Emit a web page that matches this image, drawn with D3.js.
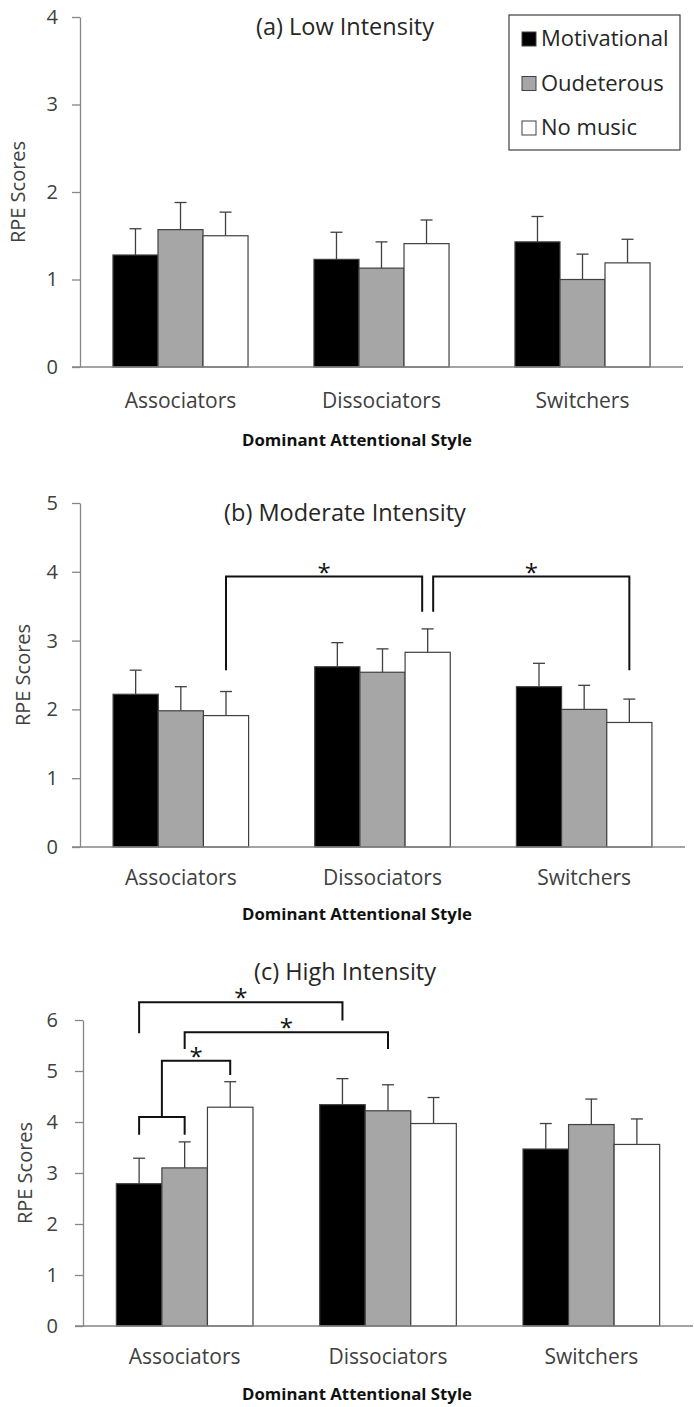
<!DOCTYPE html>
<html>
<head>
<meta charset="utf-8">
<script src="https://cdn.jsdelivr.net/npm/d3@7"></script>
<style>
  html, body { margin: 0; padding: 0; background: #fff; }
  svg { display: block; font-family: "Open Sans", Lato, sans-serif; }
</style>
</head>
<body>
<svg id="chart" width="694" height="1407"></svg>
<script>
// Categories and series
const styles = ["Associators", "Dissociators", "Switchers"];
const conditions = ["Motivational", "Oudeterous", "No music"];
const conditionFill = ["#000000", "#a6a6a6", "#ffffff"];

// Panel (a) Low intensity: means and standard errors per condition
const lowMotivational = [1.28, 1.23, 1.43];
const lowOudeterous   = [1.57, 1.13, 1.00];
const lowNoMusic      = [1.50, 1.41, 1.19];
const lowMotivationalErr = [0.30, 0.31, 0.29];
const lowOudeterousErr   = [0.31, 0.30, 0.29];
const lowNoMusicErr      = [0.27, 0.27, 0.27];
const lowTicks = [0, 1, 2, 3, 4];

// Panel (b) Moderate intensity
const modMotivational = [2.22, 2.62, 2.33];
const modOudeterous   = [1.98, 2.54, 2.00];
const modNoMusic      = [1.91, 2.83, 1.81];
const modMotivationalErr = [0.35, 0.35, 0.34];
const modOudeterousErr   = [0.35, 0.34, 0.35];
const modNoMusicErr      = [0.35, 0.34, 0.34];
const modTicks = [0, 1, 2, 3, 4, 5];

// Panel (c) High intensity
const highMotivational = [2.79, 4.34, 3.47];
const highOudeterous   = [3.10, 4.22, 3.95];
const highNoMusic      = [4.29, 3.97, 3.56];
const highMotivationalErr = [0.50, 0.51, 0.50];
const highOudeterousErr   = [0.51, 0.51, 0.50];
const highNoMusicErr      = [0.50, 0.51, 0.50];
const highTicks = [0, 1, 2, 3, 4, 5, 6];

// Significance brackets: each end is a (style, condition list) with the
// height (in RPE units) where its leg stops; `top` is the bracket height.
const modBrackets = [
  { from: ["Associators", ["No music"]], fromY: 2.57,
    to: ["Dissociators", ["No music"]], toY: 3.42, top: 3.93, star: true, toSide: -1 },
  { from: ["Dissociators", ["No music"]], fromY: 3.42,
    to: ["Switchers", ["No music"]], toY: 2.57, top: 3.93, star: true, fromSide: 1 }
];
const highBrackets = [
  { from: ["Associators", ["Motivational"]], fromY: 3.75,
    to: ["Associators", ["Oudeterous"]], toY: 3.75, top: 4.10, star: false },
  { from: ["Associators", ["Motivational", "Oudeterous"]], fromY: 4.10,
    to: ["Associators", ["No music"]], toY: 4.92, top: 5.20, star: true },
  { from: ["Associators", ["Oudeterous"]], fromY: 5.43,
    to: ["Dissociators", ["Oudeterous"]], toY: 5.43, top: 5.76, star: true },
  { from: ["Associators", ["Motivational"]], fromY: 5.74,
    to: ["Dissociators", ["Motivational"]], toY: 5.99, top: 6.35, star: true }
];

const panels = [
  { title: "(a) Low Intensity", ticks: lowTicks,
    values: [lowMotivational, lowOudeterous, lowNoMusic],
    errors: [lowMotivationalErr, lowOudeterousErr, lowNoMusicErr],
    brackets: [], legend: true,
    box: { left: 80, right: 683, top: 17, bottom: 367 },
    titleY: 35, catY: 408, axisTitleY: 446, yLabelX: 25 },
  { title: "(b) Moderate Intensity", ticks: modTicks,
    values: [modMotivational, modOudeterous, modNoMusic],
    errors: [modMotivationalErr, modOudeterousErr, modNoMusicErr],
    brackets: modBrackets, legend: false,
    box: { left: 80, right: 685, top: 503, bottom: 847 },
    titleY: 521, catY: 885, axisTitleY: 920, yLabelX: 30 },
  { title: "(c) High Intensity", ticks: highTicks,
    values: [highMotivational, highOudeterous, highNoMusic],
    errors: [highMotivationalErr, highOudeterousErr, highNoMusicErr],
    brackets: highBrackets, legend: false,
    box: { left: 83, right: 693, top: 1020, bottom: 1326 },
    titleY: 980, catY: 1364, axisTitleY: 1400, yLabelX: 32 }
];

const svg = d3.select("#chart");
const axisColor = "#868686";
const textColor = "#404040";

panels.forEach(p => {
  const g = svg.append("g");
  const b = p.box;
  const yMax = p.ticks[p.ticks.length - 1];

  const y = d3.scaleLinear().domain([0, yMax]).range([b.bottom, b.top]);
  const x = d3.scaleBand().domain(styles).range([b.left, b.right]);
  const bw = x.bandwidth();
  const xs = d3.scaleBand().domain(conditions).range([bw * 0.164, bw * 0.836]);

  // Y axis
  const yAxis = g.append("g")
    .attr("transform", `translate(${b.left},0)`)
    .call(d3.axisLeft(y).tickValues(p.ticks).tickSize(8).tickSizeOuter(0)
      .tickPadding(b.left - 80 + 14).tickFormat(d3.format("d")));
  yAxis.select(".domain").attr("stroke", axisColor).attr("stroke-width", 1.3);
  yAxis.selectAll(".tick line").attr("stroke", axisColor).attr("stroke-width", 1.3);
  yAxis.selectAll(".tick text").attr("fill", textColor)
    .attr("font-size", 20).attr("font-family", "'Open Sans', sans-serif");

  // Bars
  conditions.forEach((c, ci) => {
    g.selectAll(null).data(styles).enter().append("rect")
      .attr("x", s => x(s) + xs(c))
      .attr("y", (s, si) => y(p.values[ci][si]))
      .attr("width", xs.bandwidth())
      .attr("height", (s, si) => y(0) - y(p.values[ci][si]))
      .attr("fill", conditionFill[ci])
      .attr("stroke", "#404040")
      .attr("stroke-width", 1.2);

    // Upper error bars with caps
    styles.forEach((s, si) => {
      const cx = x(s) + xs(c) + xs.bandwidth() / 2;
      const v = p.values[ci][si], e = p.errors[ci][si];
      g.append("line").attr("x1", cx).attr("x2", cx)
        .attr("y1", y(v)).attr("y2", y(v + e))
        .attr("stroke", "#404040").attr("stroke-width", 1.3);
      g.append("line").attr("x1", cx - 6).attr("x2", cx + 6)
        .attr("y1", y(v + e)).attr("y2", y(v + e))
        .attr("stroke", "#404040").attr("stroke-width", 1.3);
    });
  });

  // X axis baseline
  g.append("line")
    .attr("x1", b.left - 8).attr("x2", b.right)
    .attr("y1", y(0)).attr("y2", y(0))
    .attr("stroke", axisColor).attr("stroke-width", 1.3);

  // Category labels
  g.selectAll(null).data(styles).enter().append("text")
    .attr("x", s => x(s) + bw / 2)
    .attr("y", p.catY)
    .attr("text-anchor", "middle")
    .attr("font-size", 21)
    .attr("fill", textColor)
    .text(s => s);

  // Axis titles
  g.append("text")
    .attr("x", 357).attr("y", p.axisTitleY)
    .attr("text-anchor", "middle")
    .attr("font-size", 16.8).attr("font-weight", "bold")
    .attr("fill", "#111")
    .text("Dominant Attentional Style");

  const midY = (b.top + b.bottom) / 2;
  g.append("text")
    .attr("transform", `translate(${p.yLabelX},${midY}) rotate(-90)`)
    .attr("text-anchor", "middle")
    .attr("font-size", 20)
    .attr("fill", textColor)
    .text("RPE Scores");

  // Panel title
  g.append("text")
    .attr("x", 345).attr("y", p.titleY)
    .attr("text-anchor", "middle")
    .attr("font-size", 23.5)
    .attr("fill", "#262626")
    .text(p.title);

  // Significance brackets
  const legX = (end, side) => {
    const [s, cs] = end;
    const cx = d3.mean(cs, c => x(s) + xs(c) + xs.bandwidth() / 2);
    return cx + (side || 0) * 5.5;
  };
  p.brackets.forEach(br => {
    const x1 = legX(br.from, br.fromSide);
    const x2 = legX(br.to, br.toSide);
    const path = d3.path();
    path.moveTo(x1, y(br.fromY));
    path.lineTo(x1, y(br.top));
    path.lineTo(x2, y(br.top));
    path.lineTo(x2, y(br.toY));
    g.append("path").attr("d", path.toString())
      .attr("fill", "none").attr("stroke", "#111").attr("stroke-width", 2);
    if (br.star) {
      g.append("text")
        .attr("x", (x1 + x2) / 2).attr("y", y(br.top) + 4)
        .attr("text-anchor", "middle")
        .attr("font-size", 24).attr("fill", "#111")
        .text("*");
    }
  });

  // Legend
  if (p.legend) {
    const lg = g.append("g");
    lg.append("rect").attr("x", 509).attr("y", 15).attr("width", 171).attr("height", 135)
      .attr("fill", "#fff").attr("stroke", "#404040").attr("stroke-width", 1.2);
    conditions.forEach((c, ci) => {
      const base = 46 + ci * 44.5;
      lg.append("rect").attr("x", 522).attr("y", base - 14).attr("width", 14).attr("height", 14)
        .attr("fill", conditionFill[ci]).attr("stroke", "#404040").attr("stroke-width", 1);
      lg.append("text").attr("x", 541).attr("y", base)
        .attr("font-size", 22).attr("fill", "#262626").text(c);
    });
  }
});
</script>
</body>
</html>
